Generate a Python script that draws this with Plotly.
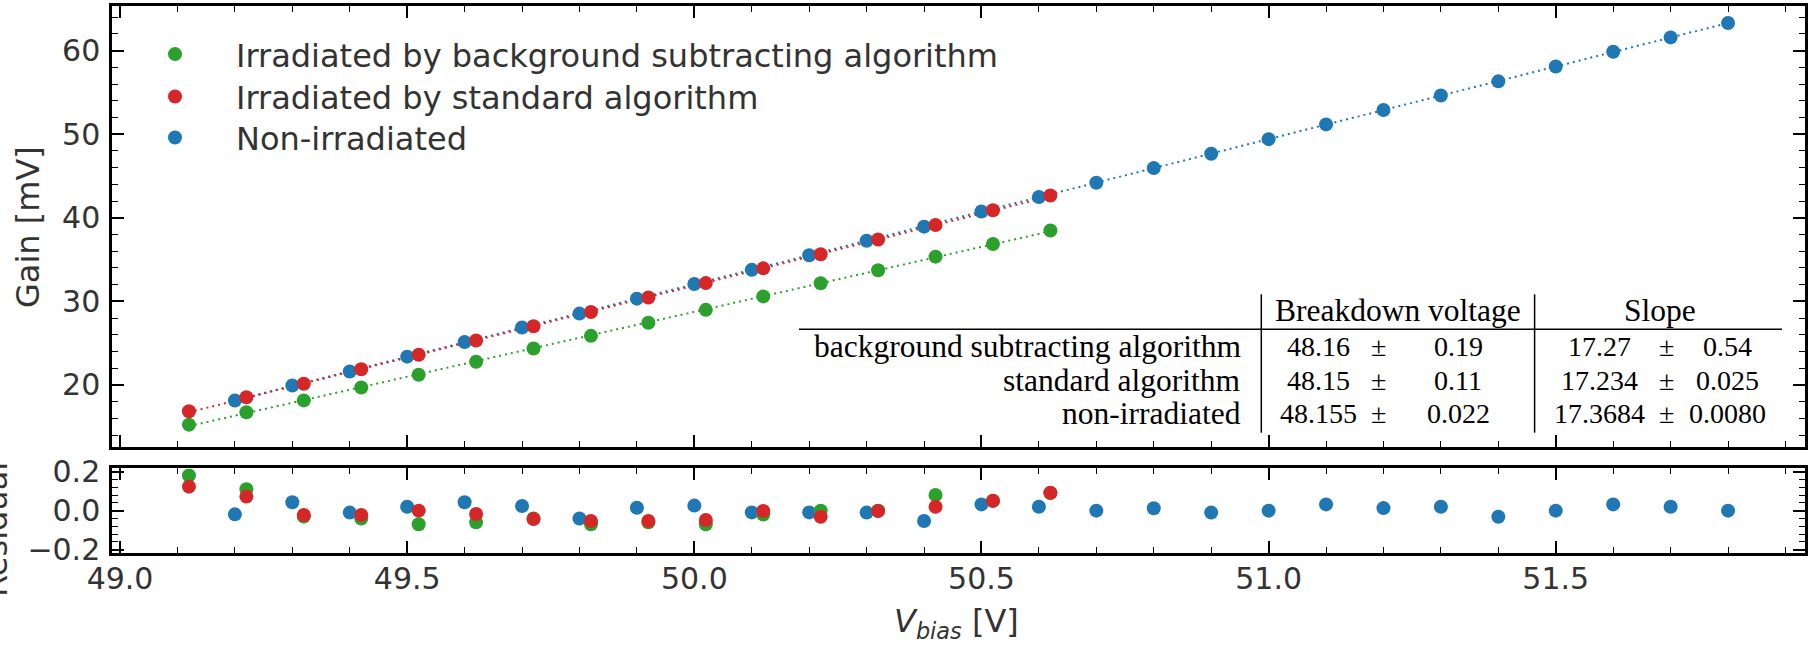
import numpy as np
import plotly.graph_objects as go

# ---------------- data ----------------
v_blue = [49.2, 49.3, 49.4, 49.5, 49.6, 49.7, 49.8, 49.9, 50.0, 50.1, 50.2, 50.3, 50.4, 50.5,
          50.6, 50.7, 50.8, 50.9, 51.0, 51.1, 51.2, 51.3, 51.4, 51.5, 51.6, 51.7, 51.8]
gain_blue = [18.13, 19.93, 21.61, 23.38, 25.14, 26.86, 28.53, 30.32, 32.07, 33.77, 35.51, 37.25,
             38.94, 40.76, 42.49, 44.20, 45.95, 47.67, 49.41, 51.18, 52.90, 54.64, 56.33, 58.10,
             59.87, 61.59, 63.31]
res_blue = [-0.019, 0.043, -0.010, 0.020, 0.043, 0.024, -0.040, 0.015, 0.026, -0.009, -0.009,
            -0.010, -0.053, 0.032, 0.020, 0.000, 0.012, -0.010, 0.000, 0.032, 0.013, 0.020,
            -0.031, 0.000, 0.032, 0.020, 0.000]

v_red = [49.12, 49.22, 49.32, 49.42, 49.52, 49.62, 49.72, 49.82, 49.92, 50.02, 50.12, 50.22,
         50.32, 50.42, 50.52, 50.62]
gain_red = [16.84, 18.51, 20.14, 21.87, 23.61, 25.32, 27.01, 28.73, 30.45, 32.18, 33.95, 35.64,
            37.40, 39.14, 40.90, 42.66]
res_red = [0.123, 0.072, -0.022, -0.022, 0.000, -0.017, -0.043, -0.053, -0.053, -0.048, -0.002,
           -0.031, -0.002, 0.020, 0.051, 0.092]

v_green = [49.12, 49.22, 49.32, 49.42, 49.52, 49.62, 49.72, 49.82, 49.92, 50.02, 50.12, 50.22,
           50.32, 50.42, 50.52, 50.62]
gain_green = [15.24, 16.73, 18.14, 19.69, 21.21, 22.77, 24.35, 25.87, 27.44, 28.98, 30.59, 32.16,
              33.72, 35.35, 36.87, 38.47]
res_green = [0.180, 0.110, -0.030, -0.040, -0.070, -0.060, -0.040, -0.070, -0.060, -0.070, -0.020,
             0.000, 0.000, 0.080, 0.050, 0.090]

series_names = ["Irradiated by background subtracting algorithm",
                "Irradiated by standard algorithm",
                "Non-irradiated"]

table_header = ["Breakdown voltage", "Slope"]
table_rows = ["background subtracting algorithm", "standard algorithm", "non-irradiated"]
bd_val = ["48.16", "48.15", "48.155"]
bd_err = ["0.19", "0.11", "0.022"]
slope_val = ["17.27", "17.234", "17.3684"]
slope_err = ["0.54", "0.025", "0.0080"]

# ---------------- styling ----------------
GREEN, RED, BLUE = "#2ca02c", "#d62728", "#1f77b4"
W, H = 1808, 645
L, R, T, B = 112, 3, 6, 92
PW, PH = W - L - R, H - T - B
TXT = "#333333"
FONT = "DejaVu Sans"
SERIF = "Liberation Serif"
MS = 14


def px2x(px):
    return (px - L) / PW


def py2y(py):
    return (H - B - py) / PH


fig = go.Figure()

# fit lines (least squares on each series)
for v, g, c in [(v_blue, gain_blue, BLUE), (v_green, gain_green, GREEN), (v_red, gain_red, RED)]:
    p = np.polyfit(v, g, 1)
    fig.add_trace(go.Scatter(x=v, y=np.polyval(p, v), mode="lines", showlegend=False,
                             line=dict(color=c, width=2, dash="2px,4px"), hoverinfo="skip",
                             xaxis="x", yaxis="y"))

# one legend box per entry so the row spacing can follow the reference
order = [(v_blue, gain_blue, res_blue, BLUE, series_names[2], "legend3"),
         (v_green, gain_green, res_green, GREEN, series_names[0], "legend"),
         (v_red, gain_red, res_red, RED, series_names[1], "legend2")]
for v, g, r, c, name, leg in order:
    fig.add_trace(go.Scatter(x=v, y=g, mode="markers", name=name, legend=leg,
                             marker=dict(color=c, size=MS), xaxis="x", yaxis="y"))
    fig.add_trace(go.Scatter(x=v, y=r, mode="markers", showlegend=False,
                             marker=dict(color=c, size=MS), xaxis="x2", yaxis="y2"))

axis_common = dict(showline=True, linecolor="black", linewidth=2.5, mirror="ticks",
                   ticks="inside", ticklen=12, tickwidth=1.5, tickcolor="black",
                   showgrid=False, zeroline=False, automargin=False,
                   tickfont=dict(family=FONT, size=30, color=TXT))

main_bottom = py2y(446.7)
res_top = py2y(468.3)


def legend_at(row_py):
    return dict(x=px2x(114), y=py2y(row_py), xanchor="left", yanchor="middle",
                font=dict(family=FONT, size=32, color=TXT), itemwidth=112,
                bgcolor="rgba(255,255,255,0)", borderwidth=0)


fig.update_layout(
    width=W, height=H,
    margin=dict(l=L, r=R, t=T, b=B, autoexpand=False),
    paper_bgcolor="white", plot_bgcolor="white",
    font=dict(family=FONT, size=30, color=TXT),
    xaxis=dict(axis_common, domain=[0, 1], anchor="y", range=[48.986, 51.934],
               matches="x2", showticklabels=False, dtick=0.5, tick0=49,
               minor=dict(ticks="inside", ticklen=6, dtick=0.1, tickcolor="black", tickwidth=1)),
    yaxis=dict(axis_common, domain=[main_bottom, 1], anchor="x", range=[12.6, 65.35],
               dtick=10, tick0=0, ticklabelstandoff=3,
               minor=dict(ticks="inside", ticklen=6, dtick=2, tickcolor="black", tickwidth=1)),
    xaxis2=dict(axis_common, domain=[0, 1], anchor="y2", range=[48.986, 51.934],
                dtick=0.5, tick0=49, tickformat=".1f", ticklabelstandoff=-3,
                minor=dict(ticks="inside", ticklen=6, dtick=0.1, tickcolor="black", tickwidth=1)),
    yaxis2=dict(axis_common, domain=[0, res_top], anchor="x2", range=[-0.217, 0.217],
                dtick=0.2, tick0=0, tickformat=".1f", ticklabelstandoff=3,
                minor=dict(ticks="inside", ticklen=6, dtick=0.04, tickcolor="black", tickwidth=1)),
    legend=legend_at(54.3),
    legend2=legend_at(96.7),
    legend3=legend_at(137.7),
)


def note(text, px, py, font, xanchor="center", angle=0):
    return dict(text=text, x=px2x(px), y=py2y(py), xref="paper", yref="paper",
                xanchor=xanchor, yanchor="middle", textangle=angle, showarrow=False,
                font=font)


afont = dict(family=FONT, size=32, color=TXT)
ann = [
    note("Gain [mV]", 28, 227, afont, angle=-90),
    note("Residual", -4, 530, afont, angle=-90),
    note("<i>V</i><sub><i>bias</i></sub> [V]", 956, 623, afont),
]

# table
lfont = dict(family=SERIF, size=31.5, color="black")
nfont = dict(family=SERIF, size=28, color="black")
ann.append(note(table_header[0], 1398, 310, lfont))
ann.append(note(table_header[1], 1660, 310, lfont))
row_y = [346.7, 380, 413.3]
for i in range(3):
    ann.append(note(table_rows[i], 1243, row_y[i], lfont, xanchor="right"))
    for txt, xc in [(bd_val[i], 1318), ("±", 1378), (bd_err[i], 1458),
                    (slope_val[i], 1599), ("±", 1666), (slope_err[i], 1727)]:
        ann.append(note(txt, xc, row_y[i], nfont))
fig.update_layout(annotations=ann)

shapes = [
    dict(type="line", xref="paper", yref="paper", x0=px2x(799), x1=px2x(1782),
         y0=py2y(329.3), y1=py2y(329.3), line=dict(color="black", width=1.5)),
    dict(type="line", xref="paper", yref="paper", x0=px2x(1261.3), x1=px2x(1261.3),
         y0=py2y(294.3), y1=py2y(432.7), line=dict(color="black", width=1.5)),
    dict(type="line", xref="paper", yref="paper", x0=px2x(1534.6), x1=px2x(1534.6),
         y0=py2y(294.3), y1=py2y(432.7), line=dict(color="black", width=1.5)),
]
fig.update_layout(shapes=shapes)

fig.write_html("out.html", config={"displayModeBar": False},
               post_script="document.body.style.margin='0px';")
